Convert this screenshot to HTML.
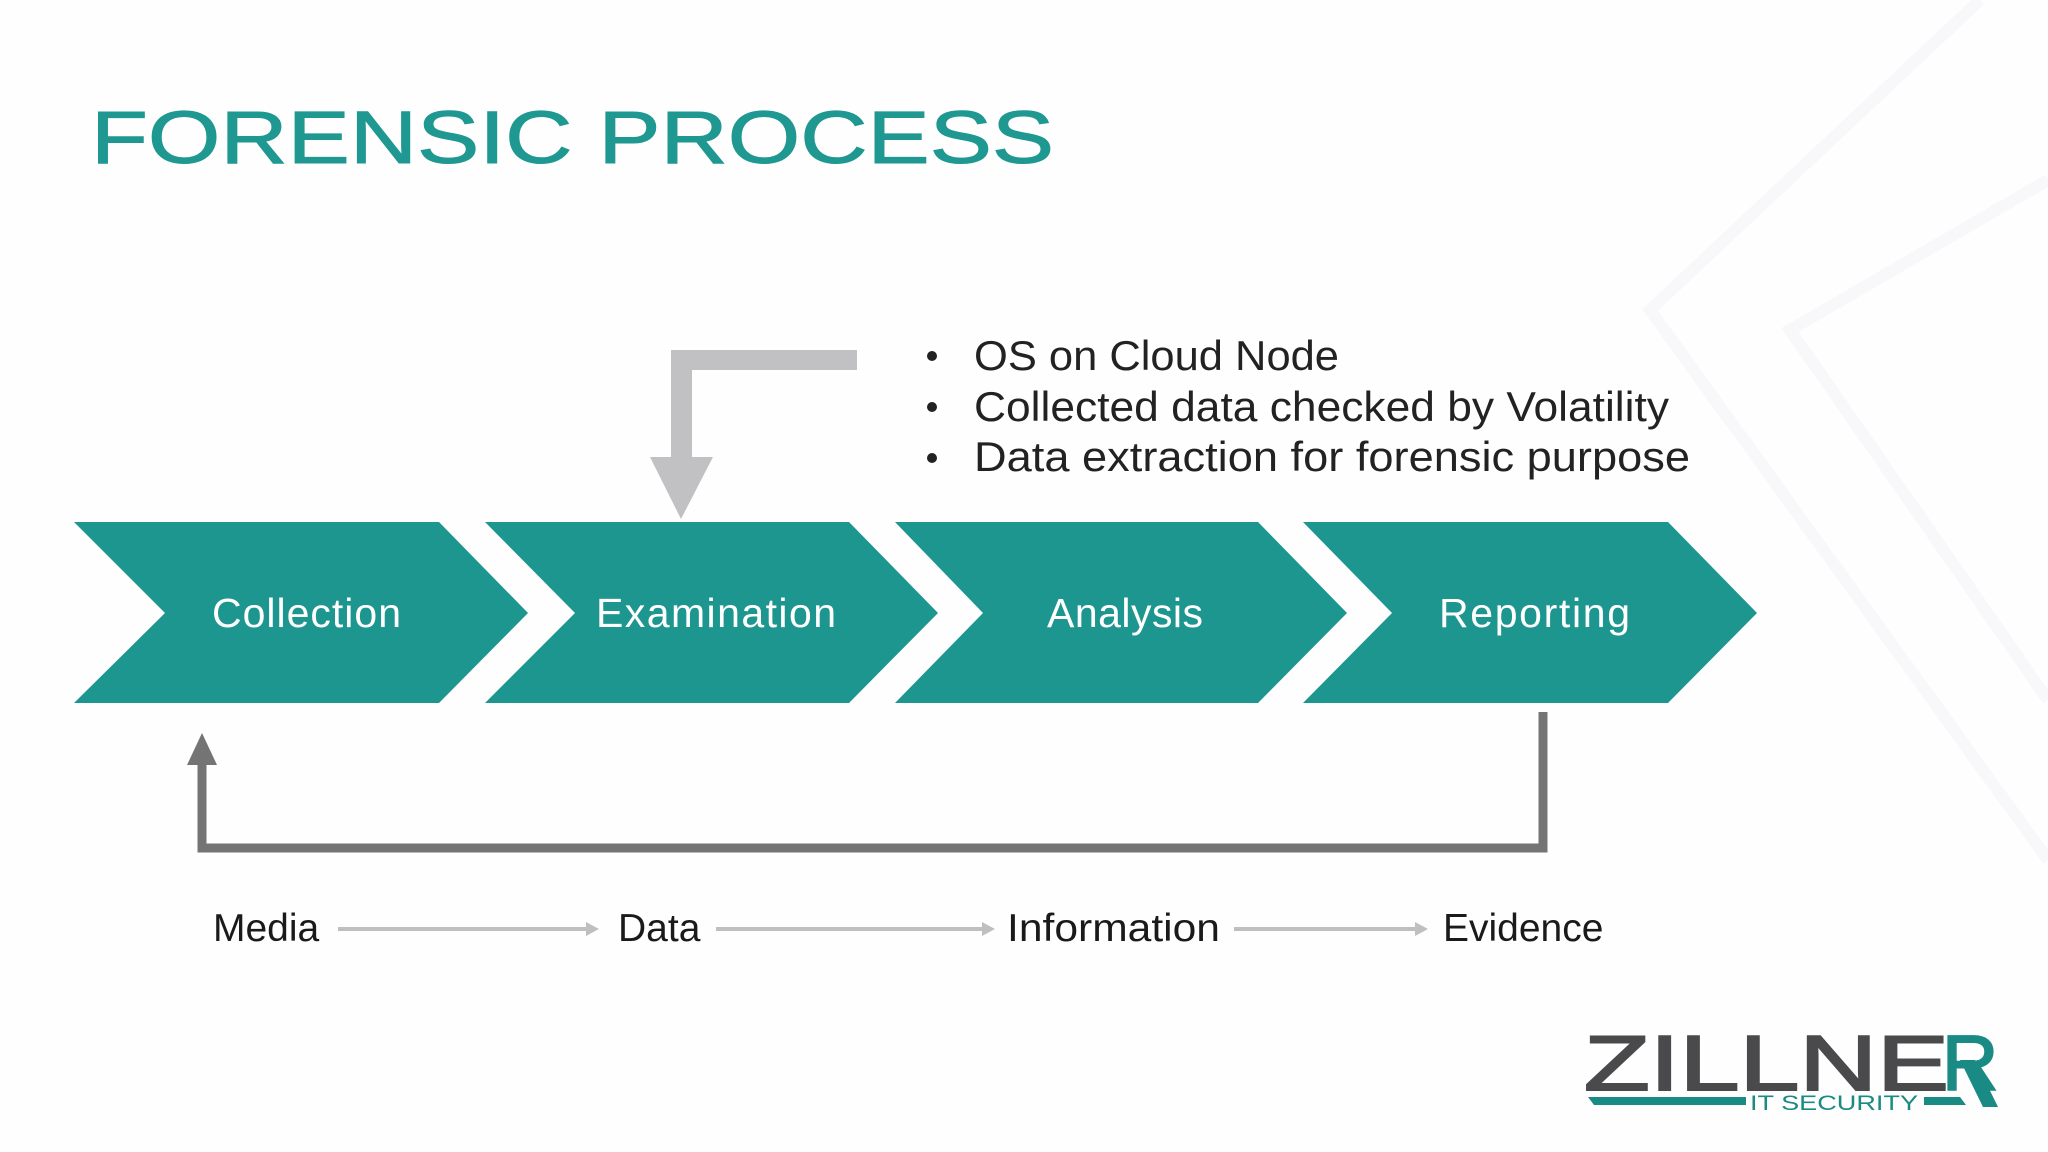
<!DOCTYPE html>
<html><head><meta charset="utf-8"><style>
html,body{margin:0;padding:0;background:#fff}
svg{display:block}
text{font-family:"Liberation Sans",sans-serif}
</style></head><body>
<svg width="2048" height="1152" viewBox="0 0 2048 1152" xmlns="http://www.w3.org/2000/svg">
<rect width="2048" height="1152" fill="#fefefe"/>
<g fill="none" stroke="#f8f8fa" stroke-width="12">
<polyline points="1980,0 1650,310 2048,860"/>
<polyline points="2048,180 1790,330 2048,700"/>
</g>
<text x="91" y="163" font-size="74" fill="#1e9891" textLength="963" lengthAdjust="spacingAndGlyphs" style="stroke:#1e9891;stroke-width:1">FORENSIC PROCESS</text>
<g fill="#1d9690">
<polygon points="74,522 439,522 528,613 439,703 74,703 165,613"/>
<polygon points="485,522 849,522 938,613 849,703 485,703 575,613"/>
<polygon points="895,522 1258,522 1347,613 1258,703 895,703 983,613"/>
<polygon points="1303,522 1668,522 1757,613 1668,703 1303,703 1392,613"/>
</g>
<g fill="#fff" font-size="41" lengthAdjust="spacingAndGlyphs">
<text x="212" y="627" textLength="189">Collection</text>
<text x="596" y="627" textLength="240">Examination</text>
<text x="1047" y="627" textLength="156">Analysis</text>
<text x="1439" y="627" textLength="191">Reporting</text>
</g>
<g fill="#c1c0c2">
<rect x="671" y="350" width="186" height="20"/>
<rect x="671" y="350" width="21" height="110"/>
<polygon points="650,457 713,457 681,519"/>
</g>
<g fill="#222" font-size="42">
<circle cx="932" cy="356" r="5"/><circle cx="932" cy="407" r="5"/><circle cx="932" cy="458" r="5"/>
<text x="974" y="370" textLength="365" lengthAdjust="spacingAndGlyphs">OS on Cloud Node</text>
<text x="974" y="421" textLength="695" lengthAdjust="spacingAndGlyphs">Collected data checked by Volatility</text>
<text x="974" y="471" textLength="716" lengthAdjust="spacingAndGlyphs">Data extraction for forensic purpose</text>
</g>
<g fill="none" stroke="#747474" stroke-width="9">
<polyline points="1543,712 1543,848 202,848 202,760"/>
</g>
<polygon points="187,765 217,765 202,733" fill="#747474"/>
<g fill="#1a1a1a" font-size="39">
<text x="213" y="941">Media</text>
<text x="618" y="941">Data</text>
<text x="1007" y="941" textLength="213" lengthAdjust="spacingAndGlyphs">Information</text>
<text x="1443" y="941">Evidence</text>
</g>
<g stroke="#bfbfbf" stroke-width="4">
<line x1="338" y1="929" x2="590" y2="929"/>
<line x1="716" y1="929" x2="986" y2="929"/>
<line x1="1234" y1="929" x2="1419" y2="929"/>
</g>
<g fill="#bfbfbf">
<polygon points="586,922 599,929 586,936"/>
<polygon points="982,922 995,929 982,936"/>
<polygon points="1415,922 1428,929 1415,936"/>
</g>
<text x="1584" y="1090" font-size="78" fill="#4a4a4c" textLength="365" lengthAdjust="spacingAndGlyphs" style="stroke:#4a4a4c;stroke-width:2">ZILLNE</text>
<text x="1942" y="1090" font-size="78" fill="#1a8a84" style="stroke:#1a8a84;stroke-width:2">R</text>
<polygon points="1588,1097 1746,1097 1746,1105 1594,1105" fill="#1a8a84"/>
<text x="1750" y="1110" font-size="21" fill="#1a8a84" textLength="168" lengthAdjust="spacingAndGlyphs">IT SECURITY</text>
<polygon points="1924,1097 1960,1097 1966,1105 1924,1105" fill="#1a8a84"/>
<polygon points="1960,1060 1975,1060 1998,1107 1983,1107" fill="#1a8a84"/>
</svg>
</body></html>
